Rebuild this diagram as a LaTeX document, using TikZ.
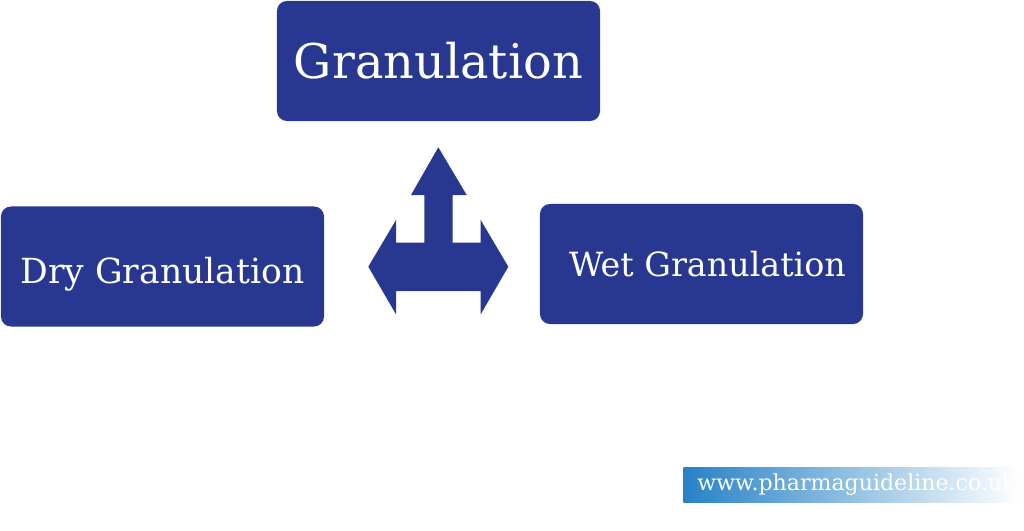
\documentclass[tikz,border=0pt]{standalone}
\usepackage{fontspec}
\setmainfont{DejaVu Serif}
\usepackage{xcolor}
\definecolor{boxblue}{RGB}{40,56,144}
\definecolor{wmblue}{RGB}{38,130,198}
\tikzset{
    % boxes of the three methods
    granbox/.style={draw=none, fill=boxblue, rounded corners=0.25cm, text=white,
        minimum width=8.075cm, minimum height=3cm, align=center},
    bigtxt/.style={font=\fontsize{34}{40}\selectfont},
    midtxt/.style={font=\fontsize{24.6}{28}\selectfont},
    wmark/.style={left color=wmblue, right color=white, text=white, inner sep=0pt,
        minimum width=8.4cm, minimum height=0.88cm, font=\fontsize{15.7}{18}\selectfont}
}

\begin{document}
\begin{tikzpicture}[x=0.025cm,y=-0.025cm]
    \useasboundingbox (0,0) rectangle (1024,531);
    % BOXES
    \node (G) at (438.5,61) [granbox, bigtxt] {Granulation};
    \node (D) at (162.5,266.5) [granbox, midtxt] {\raisebox{-0.2cm}[0.76em][0.24em]{Dry Granulation}};
    \node (W) at (701.5,264) [granbox, font=\fontsize{23.7}{28}\selectfont] {\hspace{0.3cm}Wet Granulation};

    % three-headed arrow
    \fill[boxblue] (438.3,147.3) -- (466.7,195) -- (452.7,195) -- (452.7,242.7)
        -- (480.7,242.7) -- (480.7,220) -- (508.3,266.7) -- (480.7,314.3)
        -- (480.7,291) -- (396,291) -- (396,314.3) -- (368.3,266.7)
        -- (396,220) -- (396,242.7) -- (424.3,242.7) -- (424.3,195)
        -- (411,195) -- cycle;

    % WATERMARK
    \node (M) at (851.5,485) [wmark] {\hspace{0.25cm}www.pharmaguideline.co.uk\hfill};
\end{tikzpicture}
\end{document}
